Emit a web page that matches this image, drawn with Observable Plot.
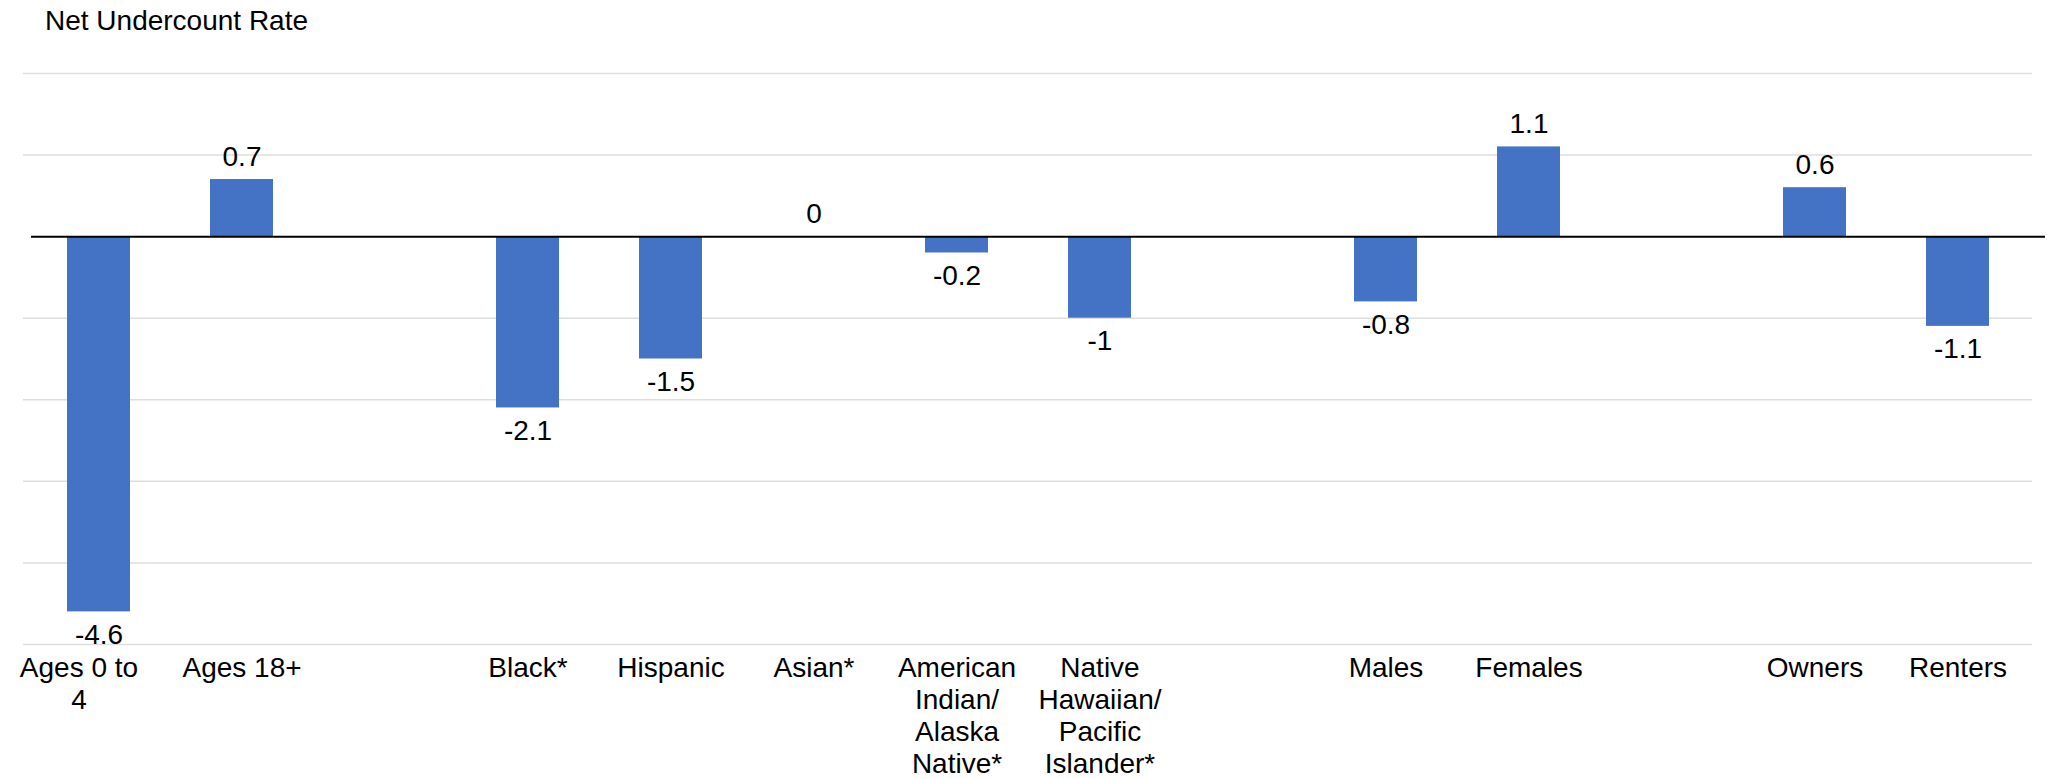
<!DOCTYPE html>
<html>
<head>
<meta charset="utf-8">
<script src="https://cdn.jsdelivr.net/npm/d3@7"></script>
<script src="https://cdn.jsdelivr.net/npm/@observablehq/plot@0.6"></script>
<style>
  html, body { margin: 0; padding: 0; background: #fff; }
  #title {
    height: 40px; box-sizing: border-box; padding: 7px 0 0 45px;
    font: 28px/1 "Liberation Sans", Arial, sans-serif; color: #000;
  }
  #chart svg { display: block; }
</style>
</head>
<body>
<div id="title">Net Undercount Rate</div>
<div id="chart"></div>
<script>
// Categories (blank entries are spacer slots between groups)
const categories = ["Ages 0 to 4", "Ages 18+", "", "Black*", "Hispanic", "Asian*",
  "American Indian/Alaska Native*", "Native Hawaiian/Pacific Islander*", " ",
  "Males", "Females", "  ", "Owners", "Renters"];
const tickLabels = ["Ages 0 to\n4", "Ages 18+", "", "Black*", "Hispanic", "Asian*",
  "American\nIndian/\nAlaska\nNative*", "Native\nHawaiian/\nPacific\nIslander*", "",
  "Males", "Females", "", "Owners", "Renters"];
const values = [-4.6, 0.7, null, -2.1, -1.5, 0, -0.2, -1, null, -0.8, 1.1, null, 0.6, -1.1];
const yTicks = [-5, -4, -3, -2, -1, 0, 1, 2];

const rows = categories.map((c, i) => ({c, v: values[i]})).filter(d => d.v !== null);
const labelOf = new Map(categories.map((c, i) => [c, tickLabels[i]]));
const font = "Liberation Sans, Arial, sans-serif";
const axisOpts = {tickSize: 0, tickPadding: 10, fontSize: 28, lineHeight: 1.14,
  tickFormat: d => labelOf.get(d), label: null, fill: "#000"};

const chart = Plot.plot({
  width: 2047,
  height: 739,
  marginLeft: 23,
  marginRight: 15,
  marginTop: 33,
  marginBottom: 135,
  style: {fontFamily: font, fontSize: "28px", color: "#000", background: "#fff"},
  x: {domain: categories, paddingInner: 0.56, paddingOuter: 0.28, label: null},
  y: {domain: [-5, 2], axis: null},
  marks: [
    Plot.ruleY(yTicks.filter(t => t !== 0), {stroke: "#dedede", strokeWidth: 1.5}),
    Plot.barY(rows, {x: "c", y: "v", fill: "#4472C4"}),
    Plot.ruleY([0], {stroke: "#000", strokeWidth: 2, insetLeft: 8, insetRight: -13}),
    Plot.text(rows.filter(d => d.v >= 0), {x: "c", y: "v", text: d => String(d.v),
      lineAnchor: "bottom", dy: -14, fontSize: 28, fill: "#000"}),
    Plot.text(rows.filter(d => d.v < 0), {x: "c", y: "v", text: d => String(d.v),
      lineAnchor: "top", dy: 12, fontSize: 28, fill: "#000"}),
    Plot.axisX({...axisOpts, ticks: categories.slice(1)}),
    Plot.axisX({...axisOpts, ticks: categories.slice(0, 1), dx: -20})
  ]
});
document.getElementById("chart").appendChild(chart);
</script>
</body>
</html>
